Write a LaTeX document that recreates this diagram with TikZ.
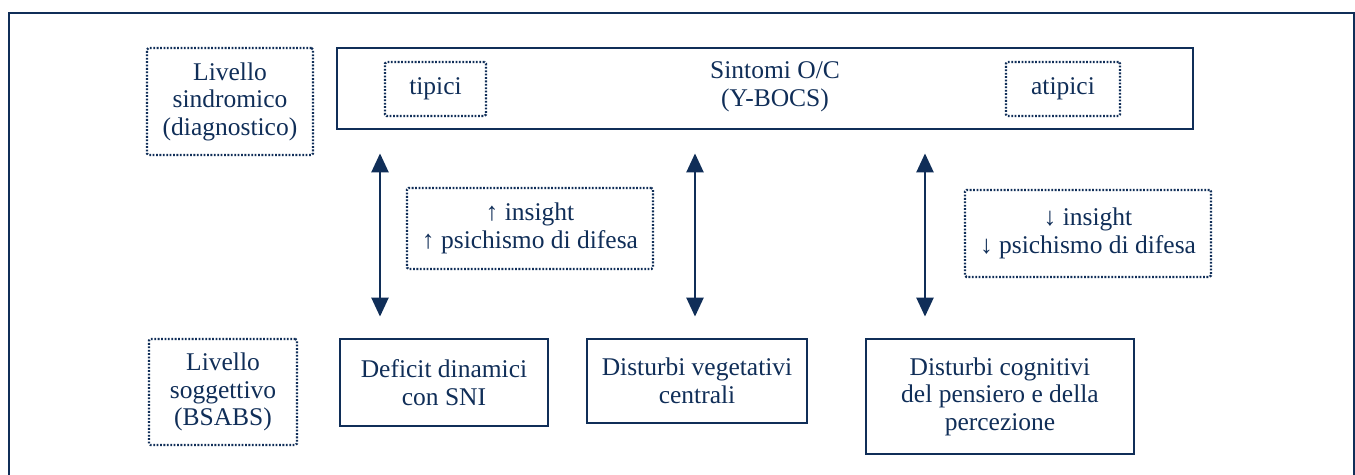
\documentclass[tikz,border=0pt]{standalone}
\usepackage{fontspec}
\setmainfont{Liberation Serif}
\usetikzlibrary{arrows.meta}
\definecolor{navy}{RGB}{16,46,88}
\tikzset{
  solidbox/.style={draw=navy, line width=2.8pt, align=center, text=navy, inner sep=0pt,
    font=\fontsize{25.5}{27.5}\selectfont},
  dotbox/.style={draw=navy, line width=2.2pt, dash pattern=on 1.8pt off 1.6pt, rounded corners=1.5pt,
    align=center, text=navy, inner sep=0pt, font=\fontsize{25.5}{27.5}\selectfont},
  txt/.style={align=center, text=navy, inner sep=0pt, font=\fontsize{25.5}{27.5}\selectfont},
  dbl/.style={draw=navy, line width=2.4pt, {Triangle[width=17pt,length=19pt]}-{Triangle[width=17pt,length=19pt]}},
  frame/.style={draw=navy, line width=2pt}
}
\begin{document}
\begin{tikzpicture}[x=1pt,y=-1pt]
\useasboundingbox (0,0) rectangle (1355,474);
% outer frame (open at the bottom)
\coordinate (fbl) at (9,476);
\coordinate (ftl) at (9,13);
\coordinate (ftr) at (1354,13);
\coordinate (fbr) at (1354,476);
\draw[frame] (fbl) -- (ftl) -- (ftr) -- (fbr);

% top row
\node[dotbox, minimum width=166pt, minimum height=107pt] (lsind) at (230,101.5)
  {Livello\\sindromico\\(diagnostico)};
\node[solidbox, minimum width=856pt, minimum height=81pt] (main) at (765,88.5) {};
\node[txt] (sint) at (775,87) {Sintomi O/C\\(Y-BOCS)};
\node[dotbox, minimum width=101pt, minimum height=54pt] (tip) at (435.5,89) {tipici};
\node[dotbox, minimum width=114pt, minimum height=54pt] (atip) at (1063,89) {atipici};

% middle
\node[dotbox, minimum width=246pt, minimum height=81pt] (ins1) at (530,228.5)
  {↑ insight\\↑ psichismo di difesa};
\node[dotbox, minimum width=246pt, minimum height=87pt] (ins2) at (1088,233.5)
  {↓ insight\\↓ psichismo di difesa};

% bottom row
\node[dotbox, minimum width=148pt, minimum height=106pt] (lsog) at (223,392)
  {Livello\\soggettivo\\(BSABS)};
\node[solidbox, minimum width=208pt, minimum height=87pt] (def) at (444,382.5)
  {Deficit dinamici\\con SNI};
\node[solidbox, minimum width=220pt, minimum height=84pt] (veg) at (697,381)
  {Disturbi vegetativi\\centrali};
\node[solidbox, minimum width=268pt, minimum height=115pt] (cog) at (1000,396.5)
  {Disturbi cognitivi\\del pensiero e della\\percezione};

% arrows
\coordinate (a1) at (380,0);
\coordinate (a2) at (695,0);
\coordinate (a3) at (925,0);
\draw[dbl, shorten <=21pt, shorten >=23pt] (def.north -| a1) -- (main.south -| a1);
\draw[dbl, shorten <=21pt, shorten >=23pt] (veg.north -| a2) -- (main.south -| a2);
\draw[dbl, shorten <=21pt, shorten >=23pt] (cog.north -| a3) -- (main.south -| a3);
\end{tikzpicture}
\end{document}
